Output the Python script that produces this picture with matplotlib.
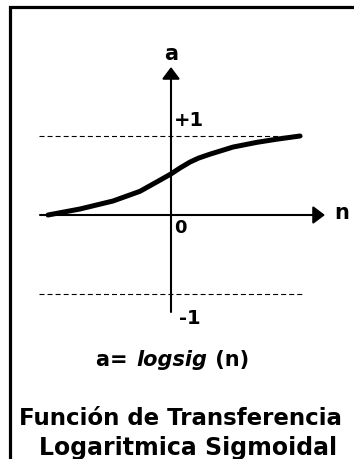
import numpy as np
import matplotlib
matplotlib.use("Agg")
import matplotlib.pyplot as plt
from matplotlib.lines import Line2D

W, H = 354, 460

# logsig curve, sampled along the drawn trace
curve_n = [-4.92, -3.64, -2.32, -1.24, -0.56, 0.0, 0.36, 0.76, 1.1, 1.56, 2.48, 3.44, 4.24, 5.16]
curve_a = [0.0, 0.076, 0.177, 0.30, 0.42, 0.52, 0.595, 0.67, 0.72, 0.77, 0.86, 0.92, 0.96, 1.0]

limits = [1, -1]
limit_labels = ["+1", "-1"]
n_span = (-5.28, 5.24)

plt.rcParams['lines.scale_dashes'] = False
plt.rcParams['font.family'] = 'DejaVu Sans'

fig = plt.figure(figsize=(W / 100, H / 100), dpi=100)
fig.patch.set_facecolor("white")

# axes fill the whole figure: n=0 at x=171px, a=0 at y=216px, 25px per n, 79px per a
ax = fig.add_axes([0, 0, 1, 1])
ax.set_xlim((0 - 171) / 25, (W - 171) / 25)
ax.set_ylim((216 - H) / 79, 216 / 79)
ax.axis("off")


def fx(px):
    return px / W


def fy(py):
    return 1 - py / H


# frame (left and top edges)
fig.add_artist(Line2D([fx(9.5), fx(9.5), 1.0], [0.0, fy(7.5), fy(7.5)],
                      transform=fig.transFigure, color="black", lw=2.3,
                      solid_joinstyle="miter", solid_capstyle="projecting"))

# dashed limit lines
for lv in limits:
    ax.plot(n_span, [lv, lv], color="black", lw=0.8, dashes=(3.6, 2.2))

# axes with arrow heads
arrow = dict(arrowstyle="-|>,head_length=0.4,head_width=0.3", lw=1.5,
             color="black", shrinkA=0, shrinkB=0, mutation_scale=18)
ax.annotate("", xy=((325 - 171) / 25, 0), xytext=((40 - 171) / 25, 0),
            arrowprops=arrow)
ax.annotate("", xy=(0, (216 - 68) / 79), xytext=(0, (216 - 313) / 79),
            arrowprops=arrow)

# the curve
ax.plot(curve_n, curve_a, color="black", lw=3.6, solid_capstyle="round",
        solid_joinstyle="round")

bold = dict(fontweight="bold", color="black")
fig.text(fx(171), fy(54), "a", ha="center", va="center", fontsize=15, **bold)
fig.text(fx(334), fy(213), "n", ha="left", va="center", fontsize=15, **bold)
fig.text(fx(174), fy(228), "0", ha="left", va="center", fontsize=13, **bold)
fig.text(fx(174), fy(120), limit_labels[0], ha="left", va="center", fontsize=14, **bold)
fig.text(fx(179), fy(319), limit_labels[1], ha="left", va="center", fontsize=14, **bold)

# formula line: pieces laid out one after another
renderer = fig.canvas.get_renderer()
pieces = [("a= ", "normal"), ("logsig", "italic"), (" (n)", "normal")]
x = 96
for txt, style in pieces:
    t = fig.text(fx(x), fy(360), txt, ha="left", va="center", fontsize=15,
                 fontstyle=style, **bold)
    x = t.get_window_extent(renderer).x1 + 1

fig.text(fx(180), fy(419), "Función de Transferencia", ha="center", va="center",
         fontsize=16.5, **bold)
fig.text(fx(188), fy(448), "Logaritmica Sigmoidal", ha="center", va="center",
         fontsize=17, **bold)

fig.savefig("out.png", dpi=100, facecolor="white")
